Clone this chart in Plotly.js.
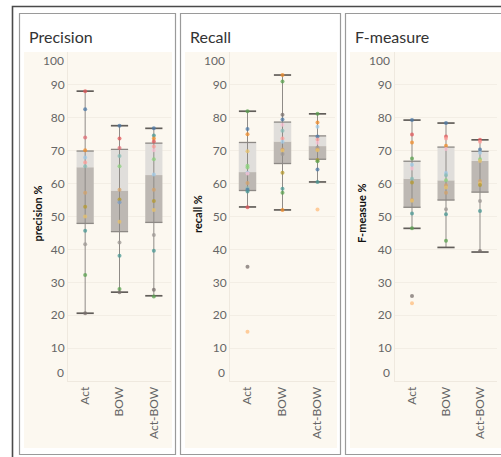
<!DOCTYPE html>
<html><head><meta charset="utf-8">
<script src="https://cdn.plot.ly/plotly-3.0.1.min.js"></script>
<style>html,body{margin:0;padding:0;background:#fff}#chart{width:501px;height:457px}</style>
</head><body><div id="chart"></div>
<script>
// ---------- data ----------
const categories = ['Act', 'BOW', 'Act-BOW'];
const yTickValues = [0, 10, 20, 30, 40, 50, 60, 70, 80, 90, 100];
const panelTitles = ['Precision', 'Recall', 'F-measure'];
const axisTitles = ['precision %', 'recall %', 'F-measue %'];

// box statistics per category (Act, BOW, Act-BOW)
const precisionLower  = [20.6, 27.0, 25.9];
const precisionQ1     = [47.9, 45.4, 48.2];
const precisionMedian = [65.0, 57.9, 62.6];
const precisionQ3     = [69.9, 70.4, 72.3];
const precisionUpper  = [88.1, 77.6, 76.8];

const recallLower  = [52.9, 52.0, 60.5];
const recallQ1     = [57.9, 66.1, 67.4];
const recallMedian = [63.5, 72.8, 71.4];
const recallQ3     = [72.5, 78.7, 74.5];
const recallUpper  = [82.0, 93.0, 81.2];

const fLower  = [46.4, 40.6, 39.2];
const fQ1     = [52.8, 55.0, 57.4];
const fMedian = [61.5, 61.0, 66.9];
const fQ3     = [66.8, 71.1, 69.8];
const fUpper  = [79.3, 78.4, 73.3];

// individual points
const precisionActPts = [88.1, 82.6, 74.0, 70.1, 67.9, 66.4, 65.3, 57.2, 53.0, 50.0, 45.7, 41.6, 32.2, 20.6];
const precisionActCol = ['#E15759','#4E79A7','#E06C75','#F28E2B','#A0CBE8','#FF9D9A','#86BCB6','#D4A36B','#B6992D','#E8C26A','#499894','#9E9894','#59A14F','#79706E'];
const precisionBowPts = [77.6, 73.7, 70.8, 68.4, 65.3, 58.1, 55.2, 54.3, 48.4, 42.1, 38.1, 28.0, 27.0];
const precisionBowCol = ['#4E79A7','#E15759','#E06C75','#86BCB6','#8CD17D','#D4A36B','#B6992D','#7A9CC6','#E8C26A','#9E9894','#499894','#59A14F','#79706E'];
const precisionActBowPts = [76.8, 74.6, 73.7, 72.8, 71.3, 70.1, 67.4, 62.8, 58.1, 54.7, 52.0, 44.4, 39.6, 27.7, 25.7];
const precisionActBowCol = ['#4E79A7','#499894','#F28E2B','#E15759','#FF9D9A','#FABFD2','#8CD17D','#A0CBE8','#D4A36B','#B6992D','#E8C26A','#9E9894','#499894','#79706E','#59A14F'];

const recallActPts = [82.0, 76.6, 75.0, 69.8, 65.4, 64.9, 63.3, 63.1, 60.2, 58.6, 58.1, 57.6, 52.8, 34.7, 15.0];
const recallActCol = ['#59A14F','#4E79A7','#F28E2B','#E8C26A','#8CD17D','#8CD17D','#A0CBE8','#FABFD2','#D4A36B','#86BCB6','#4E79A7','#499894','#E15759','#79706E','#FFBE7D'];
const recallBowPts = [93.0, 91.0, 80.9, 79.5, 77.9, 76.1, 73.7, 72.7, 70.4, 70.0, 69.0, 63.3, 58.4, 57.2, 52.0];
const recallBowCol = ['#F28E2B','#59A14F','#79706E','#4E79A7','#FABFD2','#86BCB6','#FF9D9A','#A0CBE8','#D4A36B','#E8C26A','#9E9894','#B6992D','#499894','#59A14F','#F28E2B'];
const recallActBowPts = [81.2, 78.6, 77.3, 74.3, 73.4, 72.4, 71.0, 70.4, 70.1, 67.2, 66.8, 64.3, 60.5, 52.1];
const recallActBowCol = ['#59A14F','#F28E2B','#A0CBE8','#4E79A7','#FF9D9A','#FABFD2','#9E9894','#D4A36B','#E8C26A','#B6992D','#59A14F','#4E79A7','#499894','#FFBE7D'];

const fActPts = [79.3, 74.9, 72.5, 67.6, 65.7, 64.6, 61.5, 60.3, 55.0, 54.8, 50.9, 46.4, 25.8, 23.6];
const fActCol = ['#4E79A7','#E15759','#F28E2B','#59A14F','#A0CBE8','#FABFD2','#86BCB6','#B6992D','#D4A36B','#E8C26A','#499894','#59A14F','#79706E','#FFBE7D'];
const fBowPts = [78.4, 74.3, 73.7, 71.5, 70.5, 63.2, 62.5, 61.0, 59.5, 58.8, 57.2, 52.2, 50.7, 42.6];
const fBowCol = ['#4E79A7','#E15759','#FF9D9A','#F28E2B','#FABFD2','#A0CBE8','#86BCB6','#8CD17D','#D4A36B','#E8C26A','#D4A36B','#9E9894','#499894','#59A14F'];
const fActBowPts = [73.3, 72.7, 70.4, 69.4, 67.4, 66.9, 60.8, 60.1, 59.6, 54.7, 51.7, 39.5];
const fActBowCol = ['#E15759','#FF9D9A','#4E79A7','#A0CBE8','#8CD17D','#E8C26A','#D4A36B','#E8C26A','#B6992D','#9E9894','#499894','#79706E'];

// ---------- layout geometry (pixels) ----------
const W = 501, H = 457;
const px = v => v / W;
const py = v => 1 - v / H;
const plotTop = 52, plotBottom = 381;
const panels = [
  {plotX: [68, 171],  pane: [24, 172],  frame: [19.5, 175.5], labelRight: 66,  titleX: 27,  axTitleX: 36.5},
  {plotX: [230, 335], pane: [185, 337], frame: [180.5, 340.5], labelRight: 227, titleX: 188, axTitleX: 197},
  {plotX: [395, 497], pane: [350, 501], frame: [345.5, 503],   labelRight: 392, titleX: 353, axTitleX: 361}
];

const stats = [
  {lo: precisionLower, q1: precisionQ1, med: precisionMedian, q3: precisionQ3, hi: precisionUpper,
   pts: [precisionActPts, precisionBowPts, precisionActBowPts], cols: [precisionActCol, precisionBowCol, precisionActBowCol]},
  {lo: recallLower, q1: recallQ1, med: recallMedian, q3: recallQ3, hi: recallUpper,
   pts: [recallActPts, recallBowPts, recallActBowPts], cols: [recallActCol, recallBowCol, recallActBowCol]},
  {lo: fLower, q1: fQ1, med: fMedian, q3: fQ3, hi: fUpper,
   pts: [fActPts, fBowPts, fActBowPts], cols: [fActCol, fBowCol, fActBowCol]}
];

const FONT = 'Lato, "Open Sans", sans-serif';
const traces = [];
const layout = {
  width: W, height: H,
  margin: {l: 0, r: 0, t: 0, b: 0},
  paper_bgcolor: '#ffffff',
  plot_bgcolor: 'rgba(0,0,0,0)',
  showlegend: false,
  barmode: 'overlay',
  font: {family: FONT, size: 12, color: '#666'},
  shapes: [],
  annotations: []
};

stats.forEach((s, i) => {
  const n = i === 0 ? '' : String(i + 1);
  const xa = 'x' + n, ya = 'y' + n;
  const p = panels[i];

  // whiskers
  const wx = [], wy = [];
  categories.forEach((c, k) => { wx.push(c, c, null); wy.push(s.lo[k], s.hi[k], null); });
  traces.push({type: 'scatter', mode: 'lines', x: wx, y: wy, xaxis: xa, yaxis: ya,
    line: {color: '#8f8b87', width: 1}, hoverinfo: 'skip'});

  // lower box half (Q1 -> median), darker
  traces.push({type: 'bar', x: categories, base: s.q1, y: s.med.map((m, k) => m - s.q1[k]),
    width: 0.5, xaxis: xa, yaxis: ya, marker: {color: '#bdb8b3', line: {width: 0}}});
  // upper box half (median -> Q3), lighter
  traces.push({type: 'bar', x: categories, base: s.med, y: s.q3.map((q, k) => q - s.med[k]),
    width: 0.5, xaxis: xa, yaxis: ya, marker: {color: '#e0dedb', line: {width: 0}}});

  // box edges at Q1 / Q3
  traces.push({type: 'scatter', mode: 'markers', x: categories.concat(categories), y: s.q1.concat(s.q3),
    xaxis: xa, yaxis: ya, marker: {symbol: 'line-ew', size: 12.3, line: {width: 1.3, color: '#8d8985'}}, hoverinfo: 'skip'});
  // whisker caps
  traces.push({type: 'scatter', mode: 'markers', x: categories.concat(categories), y: s.lo.concat(s.hi),
    xaxis: xa, yaxis: ya, marker: {symbol: 'line-ew', size: 12.3, line: {width: 1.7, color: '#625e5a'}}, hoverinfo: 'skip'});

  // points
  categories.forEach((c, k) => {
    traces.push({type: 'scatter', mode: 'markers', x: s.pts[k].map(() => c), y: s.pts[k],
      xaxis: xa, yaxis: ya, marker: {size: 4, color: s.cols[k], opacity: 0.75}});
  });

  layout['xaxis' + n] = {
    domain: [px(p.plotX[0]), px(p.plotX[1])], anchor: ya, type: 'category',
    categoryorder: 'array', categoryarray: categories, range: [-0.5, 2.5],
    tickangle: -90, tickfont: {size: 12, color: '#666', family: FONT}, showgrid: false,
    showline: true, linecolor: '#efe9df', linewidth: 1, ticks: '', zeroline: false, fixedrange: true
  };
  layout['yaxis' + n] = {
    domain: [py(plotBottom), py(plotTop)], anchor: xa, range: [0, 100],
    tickmode: 'array', tickvals: yTickValues.slice(1, -1), ticktext: yTickValues.slice(1, -1).map(String),
    tickfont: {size: 12, color: '#666', family: FONT}, showgrid: true, gridcolor: '#f3eee5', gridwidth: 1,
    showline: true, linecolor: '#efe9df', linewidth: 1, ticks: '', zeroline: false, fixedrange: true
  };

  // pane background
  layout.shapes.push({type: 'rect', xref: 'paper', yref: 'paper', layer: 'below',
    x0: px(p.pane[0]), x1: px(p.pane[1]), y0: py(448), y1: py(52),
    fillcolor: '#fcf8f0', line: {width: 0}});
  // panel frame
  layout.shapes.push({type: 'rect', xref: 'paper', yref: 'paper', layer: 'above',
    x0: px(p.frame[0]), x1: px(p.frame[1]), y0: py(454.5), y1: py(13.5),
    line: {color: '#9a9a9a', width: 1.2}});

  // panel title
  layout.annotations.push({xref: 'paper', yref: 'paper', x: px(p.titleX), y: py(36.5),
    xanchor: 'left', yanchor: 'middle', showarrow: false, text: panelTitles[i],
    font: {family: FONT, size: 16, color: '#333'}});
  // axis title
  layout.annotations.push({xref: 'paper', yref: 'paper', x: px(p.axTitleX), y: py(214),
    xanchor: 'center', yanchor: 'middle', showarrow: false, textangle: -90, text: '<b>' + axisTitles[i] + '</b>',
    font: {family: FONT, size: 11, color: '#111'}});
  // clamped end tick labels (0 and 100)
  [[yTickValues[0], 372], [yTickValues[yTickValues.length - 1], 61]].forEach(([v, yy]) => {
    layout.annotations.push({xref: 'paper', yref: 'paper', x: px(p.labelRight), y: py(yy),
      xanchor: 'right', yanchor: 'middle', showarrow: false, text: String(v),
      font: {family: FONT, size: 12, color: '#666'}});
  });
});

// outer dashboard border
layout.shapes.push({type: 'path', xref: 'paper', yref: 'paper', layer: 'above',
  path: `M ${px(12.5)} 0 L ${px(12.5)} ${py(6.5)} L 1.01 ${py(6.5)}`, line: {color: '#4a4a4a', width: 1.6}});

Plotly.newPlot('chart', traces, layout, {displayModeBar: false, staticPlot: true});
</script>
</body></html>
